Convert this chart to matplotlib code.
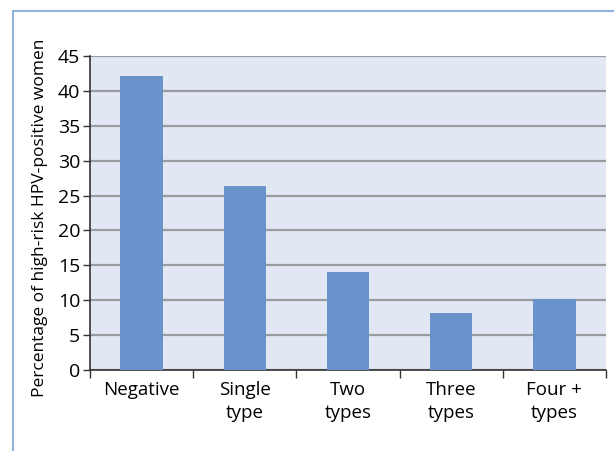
import numpy as np
import matplotlib.pyplot as plt
from matplotlib.patches import Rectangle

plt.rcParams.update({
    "font.family": ["Open Sans", "DejaVu Sans"],
})

categories = ["Negative", "Single\ntype", "Two\ntypes", "Three\ntypes", "Four +\ntypes"]
percent = [42.1, 26.3, 14.1, 8.2, 10.2]
y_ticks = [0, 5, 10, 15, 20, 25, 30, 35, 40, 45]

fig = plt.figure(figsize=(6.14, 4.51), dpi=100)

# open frame around the panel (left and top edges only visible)
fig.patches.append(Rectangle((12.5 / 614, -0.1), 1.2, (451 - 10.5) / 451 + 0.1,
                             transform=fig.transFigure, fill=False,
                             edgecolor="#8fb1e2", linewidth=1.5))

ax = fig.add_axes([90 / 614, 1 - 370 / 451, (606 - 90) / 614, (370 - 56) / 451])
ax.set_facecolor("#e1e8f4")

x = np.arange(len(categories))
ax.bar(x, percent, width=0.41, color="#6a93cc", zorder=3)

ax.set_xlim(-0.5, len(categories) - 0.5)
ax.set_ylim(0, 45)
ax.set_yticks(y_ticks)
ax.yaxis.grid(True, color="#9a9ca0", linewidth=1.6, zorder=1)
ax.set_axisbelow(True)

# category boundaries carry the x ticks, labels sit in between
ax.set_xticks(np.arange(-0.5, len(categories)))
ax.set_xticklabels([])
ax.set_xticks(x, minor=True)
ax.set_xticklabels(categories, minor=True, fontsize=13.5, linespacing=1.35)
ax.tick_params(axis="x", which="major", length=6, width=1, color="#333333", direction="out")
ax.tick_params(axis="x", which="minor", length=0, pad=8)
ax.tick_params(axis="y", length=5, width=1, color="#333333", labelsize=14, pad=2)

for side in ["top", "right"]:
    ax.spines[side].set_visible(False)
for side in ["left", "bottom"]:
    ax.spines[side].set_color("#333333")
    ax.spines[side].set_linewidth(1.2)

ax.set_ylabel("Percentage of high-risk HPV-positive women", fontsize=12.5,
              va="center")
ax.yaxis.set_label_coords(-0.097, 0.484)

fig.savefig("out.png", dpi=100)
